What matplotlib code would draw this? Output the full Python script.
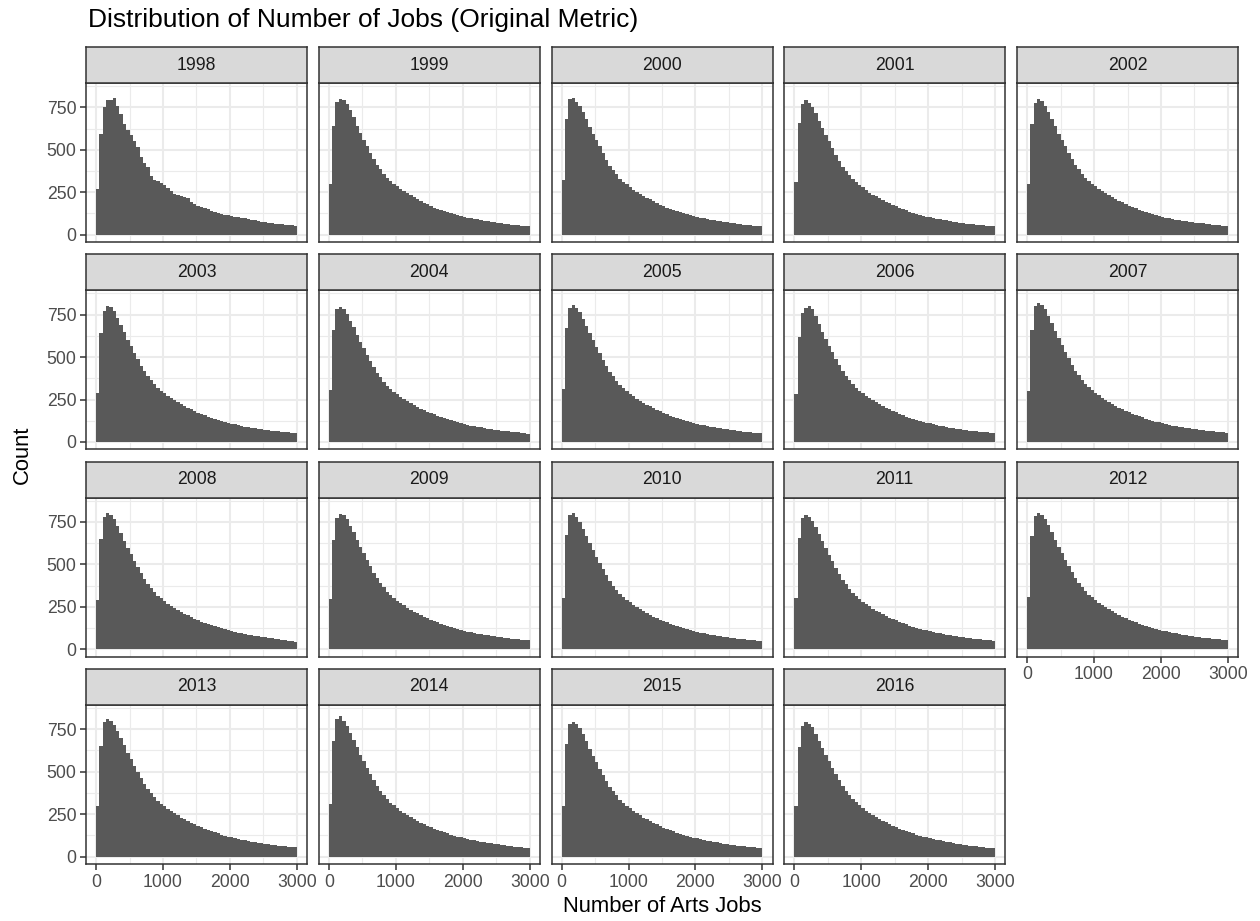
import numpy as np
import matplotlib
matplotlib.use("Agg")
import matplotlib.pyplot as plt
from matplotlib.ticker import FixedLocator

plt.rcParams['font.family'] = ['Liberation Sans', 'DejaVu Sans']

# histogram counts per year, bins of 50 jobs from 0 to 3000
bin_width = 50
years = list(range(1998, 2017))

counts_1998 = [270, 590, 750, 790, 795, 805, 760, 710, 650, 615, 585, 550, 515, 460, 420, 400, 345, 320, 315, 305,
               295, 275, 255, 240, 232, 228, 222, 215, 195, 180, 170, 165, 155, 150, 140, 133, 128, 122, 118, 115,
               110, 106, 103, 100, 96, 92, 88, 84, 80, 76, 72, 70, 68, 65, 63, 61, 60, 58, 56, 54]
counts_1999 = [300, 640, 780, 800, 790, 770, 735, 690, 640, 600, 560, 520, 480, 445, 410, 385, 360, 335, 315, 300,
               285, 270, 255, 245, 232, 220, 210, 200, 188, 178, 170, 160, 152, 146, 140, 132, 126, 120, 114, 110,
               105, 100, 97, 93, 90, 86, 82, 79, 76, 73, 70, 67, 65, 62, 60, 58, 56, 54, 52, 50]
counts_2000 = [320, 680, 800, 805, 780, 760, 720, 680, 635, 590, 555, 520, 480, 440, 405, 380, 355, 330, 312, 296,
               280, 266, 252, 240, 228, 218, 208, 198, 186, 176, 168, 160, 152, 145, 138, 131, 125, 119, 114, 109,
               104, 100, 96, 92, 88, 85, 82, 78, 75, 72, 69, 66, 64, 62, 60, 58, 56, 54, 52, 50]
counts_2001 = [310, 660, 770, 790, 775, 750, 715, 670, 630, 585, 550, 510, 470, 435, 400, 375, 350, 326, 308, 292,
               278, 262, 248, 236, 225, 214, 204, 194, 184, 174, 166, 158, 150, 143, 136, 130, 124, 118, 112, 107,
               102, 98, 94, 90, 87, 84, 80, 77, 74, 71, 68, 65, 63, 61, 59, 57, 55, 53, 51, 49]
counts_2002 = [300, 650, 775, 800, 785, 760, 725, 680, 640, 595, 560, 520, 482, 445, 412, 385, 360, 336, 316, 300,
               284, 270, 256, 243, 231, 220, 210, 200, 190, 180, 171, 163, 155, 148, 141, 134, 128, 122, 116, 111,
               106, 101, 97, 93, 89, 86, 83, 80, 77, 74, 71, 68, 66, 63, 61, 59, 57, 55, 53, 51]
counts_2003 = [290, 640, 770, 800, 795, 770, 730, 690, 645, 600, 565, 525, 488, 450, 416, 390, 364, 340, 320, 303,
               287, 272, 258, 245, 233, 222, 212, 202, 192, 182, 173, 165, 157, 150, 143, 136, 130, 124, 118, 113,
               108, 103, 99, 95, 91, 87, 84, 81, 78, 75, 72, 69, 66, 64, 62, 60, 58, 56, 54, 52]
counts_2004 = [305, 660, 785, 795, 780, 755, 715, 675, 632, 590, 552, 515, 478, 442, 408, 380, 356, 332, 312, 296,
               281, 266, 252, 240, 228, 217, 207, 197, 187, 178, 170, 162, 154, 147, 140, 134, 128, 122, 116, 111,
               106, 101, 97, 93, 89, 86, 82, 79, 76, 73, 70, 67, 65, 62, 60, 58, 56, 54, 52, 50]
counts_2005 = [310, 670, 790, 805, 790, 765, 725, 685, 640, 598, 560, 522, 485, 448, 414, 386, 360, 336, 316, 300,
               284, 269, 255, 242, 230, 219, 209, 199, 189, 180, 171, 163, 155, 148, 141, 135, 129, 123, 117, 112,
               107, 102, 98, 94, 90, 87, 84, 80, 77, 74, 71, 68, 66, 63, 61, 59, 57, 55, 53, 51]
counts_2006 = [285, 620, 760, 790, 800, 780, 740, 695, 650, 605, 568, 528, 490, 452, 418, 390, 364, 340, 320, 303,
               287, 272, 258, 245, 233, 222, 212, 202, 192, 183, 174, 166, 158, 150, 143, 137, 131, 125, 119, 114,
               109, 104, 100, 96, 92, 88, 85, 82, 79, 76, 73, 70, 67, 65, 63, 61, 59, 57, 55, 53]
counts_2007 = [300, 660, 800, 820, 805, 780, 740, 700, 655, 610, 570, 530, 492, 455, 420, 392, 366, 342, 322, 305,
               289, 274, 260, 247, 235, 224, 213, 203, 193, 184, 175, 167, 159, 152, 145, 138, 132, 126, 120, 115,
               110, 105, 101, 97, 93, 89, 86, 83, 80, 77, 74, 71, 68, 66, 64, 62, 60, 58, 56, 54]
counts_2008 = [290, 650, 780, 800, 790, 765, 725, 685, 640, 598, 560, 522, 484, 448, 414, 386, 360, 336, 316, 300,
               284, 269, 255, 242, 230, 219, 209, 199, 189, 180, 171, 163, 155, 148, 141, 135, 129, 123, 117, 112,
               107, 102, 98, 94, 90, 86, 83, 80, 76, 73, 70, 67, 64, 61, 58, 55, 52, 49, 46, 44]
counts_2009 = [295, 645, 775, 795, 790, 765, 728, 688, 644, 602, 564, 526, 488, 452, 418, 390, 364, 340, 320, 303,
               287, 272, 258, 245, 233, 222, 212, 202, 192, 183, 174, 166, 158, 151, 144, 137, 131, 125, 119, 114,
               109, 104, 100, 96, 92, 88, 85, 82, 79, 76, 73, 70, 67, 65, 63, 61, 59, 57, 55, 53]
counts_2010 = [300, 670, 790, 800, 780, 750, 710, 668, 625, 582, 545, 508, 470, 435, 402, 375, 350, 327, 308, 292,
               277, 262, 248, 236, 224, 213, 203, 193, 184, 175, 167, 159, 151, 144, 137, 131, 125, 119, 113, 108,
               103, 98, 94, 90, 86, 82, 79, 76, 73, 70, 67, 64, 62, 60, 58, 56, 54, 52, 50, 48]
counts_2011 = [300, 655, 775, 790, 780, 758, 720, 680, 636, 594, 556, 518, 480, 444, 410, 383, 357, 333, 313, 297,
               281, 266, 252, 240, 228, 217, 207, 197, 187, 178, 170, 162, 154, 147, 140, 134, 128, 122, 116, 111,
               106, 101, 97, 93, 89, 85, 82, 79, 76, 73, 70, 67, 64, 62, 60, 58, 56, 54, 52, 50]
counts_2012 = [310, 665, 785, 800, 790, 768, 730, 690, 646, 604, 566, 528, 490, 454, 420, 392, 366, 342, 322, 305,
               289, 274, 260, 247, 235, 224, 213, 203, 193, 184, 175, 167, 159, 151, 144, 138, 132, 126, 120, 115,
               110, 105, 101, 97, 93, 89, 86, 83, 80, 77, 74, 71, 68, 66, 64, 62, 60, 58, 56, 54]
counts_2013 = [295, 650, 790, 810, 800, 775, 738, 698, 654, 612, 574, 536, 498, 462, 428, 400, 374, 350, 330, 312,
               296, 281, 267, 254, 242, 230, 219, 209, 199, 189, 180, 172, 164, 156, 149, 142, 136, 130, 124, 118,
               113, 108, 104, 100, 96, 92, 88, 85, 82, 79, 76, 73, 70, 67, 64, 62, 60, 58, 56, 54]
counts_2014 = [310, 680, 810, 825, 800, 770, 730, 688, 644, 600, 562, 524, 486, 450, 416, 388, 362, 338, 318, 301,
               285, 270, 256, 243, 231, 220, 210, 200, 190, 181, 172, 164, 156, 149, 142, 136, 130, 124, 118, 113,
               108, 103, 99, 95, 91, 87, 84, 81, 78, 75, 72, 69, 66, 63, 61, 59, 57, 55, 53, 51]
counts_2015 = [300, 660, 780, 795, 782, 758, 720, 680, 636, 594, 556, 518, 480, 445, 412, 385, 360, 336, 316, 300,
               284, 269, 255, 242, 230, 219, 209, 199, 189, 180, 171, 163, 155, 148, 141, 135, 129, 123, 117, 112,
               107, 102, 98, 94, 90, 86, 83, 80, 77, 74, 71, 68, 65, 63, 61, 59, 57, 55, 53, 51]
counts_2016 = [295, 645, 770, 790, 782, 760, 722, 683, 640, 598, 560, 522, 485, 450, 416, 389, 363, 339, 319, 302,
               286, 271, 257, 244, 232, 221, 211, 201, 191, 182, 173, 165, 157, 150, 143, 136, 130, 124, 118, 113,
               108, 103, 99, 95, 91, 87, 84, 80, 77, 74, 71, 68, 65, 62, 60, 58, 55, 53, 51, 48]

all_counts = [counts_1998, counts_1999, counts_2000, counts_2001, counts_2002, counts_2003, counts_2004,
              counts_2005, counts_2006, counts_2007, counts_2008, counts_2009, counts_2010, counts_2011,
              counts_2012, counts_2013, counts_2014, counts_2015, counts_2016]

x_ticks = [0, 1000, 2000, 3000]
y_ticks = [0, 250, 500, 750]

BAR = '#595959'
DARK = '#333333'
GRID = '#EBEBEB'
TXT = '#4D4D4D'

W, H = 1260, 921
fig = plt.figure(figsize=(W / 100, H / 100), dpi=100)

ncol = 5
left0, col_step, pw = 86, 232.75, 221
top0, row_step, strip_h, body_h = 47, 207.3, 36, 159

for i, (year, counts) in enumerate(zip(years, all_counts)):
    r, c = divmod(i, ncol)
    left = left0 + c * col_step
    s_top = top0 + r * row_step
    b_top = s_top + strip_h

    ax = fig.add_axes([left / W, 1 - (b_top + body_h) / H, pw / W, body_h / H])
    edges = np.arange(0, (len(counts) + 1) * bin_width, bin_width)
    # filled step outline so neighbouring bins don't leave hairline gaps
    ax.stairs(counts, edges, fill=True, color=BAR, linewidth=0, zorder=2)
    ax.set_xlim(-150, 3150)
    ax.set_ylim(-43, 893)
    ax.set_xticks(x_ticks)
    ax.set_yticks(y_ticks)
    ax.xaxis.set_minor_locator(FixedLocator([500, 1500, 2500]))
    ax.yaxis.set_minor_locator(FixedLocator([125, 375, 625, 875]))
    ax.grid(which='major', color=GRID, lw=1.5, zorder=0)
    ax.grid(which='minor', color=GRID, lw=0.8, zorder=0)
    ax.set_axisbelow(True)
    for sp in ax.spines.values():
        sp.set_color(DARK)
        sp.set_linewidth(1.1)
        sp.set_zorder(3)
    ax.tick_params(which='major', direction='out', length=4, width=1.1, color=DARK,
                   labelcolor=TXT, labelsize=12.7, pad=3)
    ax.tick_params(which='minor', length=0)
    show_x = i + ncol >= len(years)
    ax.tick_params(axis='x', bottom=show_x, labelbottom=show_x)
    ax.tick_params(axis='y', left=(c == 0), labelleft=(c == 0))

    sax = fig.add_axes([left / W, 1 - (s_top + strip_h) / H, pw / W, strip_h / H])
    sax.set_facecolor('#D9D9D9')
    sax.set_xticks([])
    sax.set_yticks([])
    for sp in sax.spines.values():
        sp.set_color(DARK)
        sp.set_linewidth(1.1)
    sax.text(0.5, 0.5, str(year), ha='center', va='center', fontsize=12.7,
             color='#1A1A1A', transform=sax.transAxes)

fig.text(88 / W, 1 - 8 / H, 'Distribution of Number of Jobs (Original Metric)',
         fontsize=19, ha='left', va='top', color='black')
fig.text(22 / W, 1 - 455 / H, 'Count', rotation=90, fontsize=15.8,
         ha='center', va='center', color='black')
fig.text(662 / W, 1 - 906 / H, 'Number of Arts Jobs', fontsize=15.8,
         ha='center', va='center', color='black')

fig.savefig('out.png', dpi=100, facecolor='white')
